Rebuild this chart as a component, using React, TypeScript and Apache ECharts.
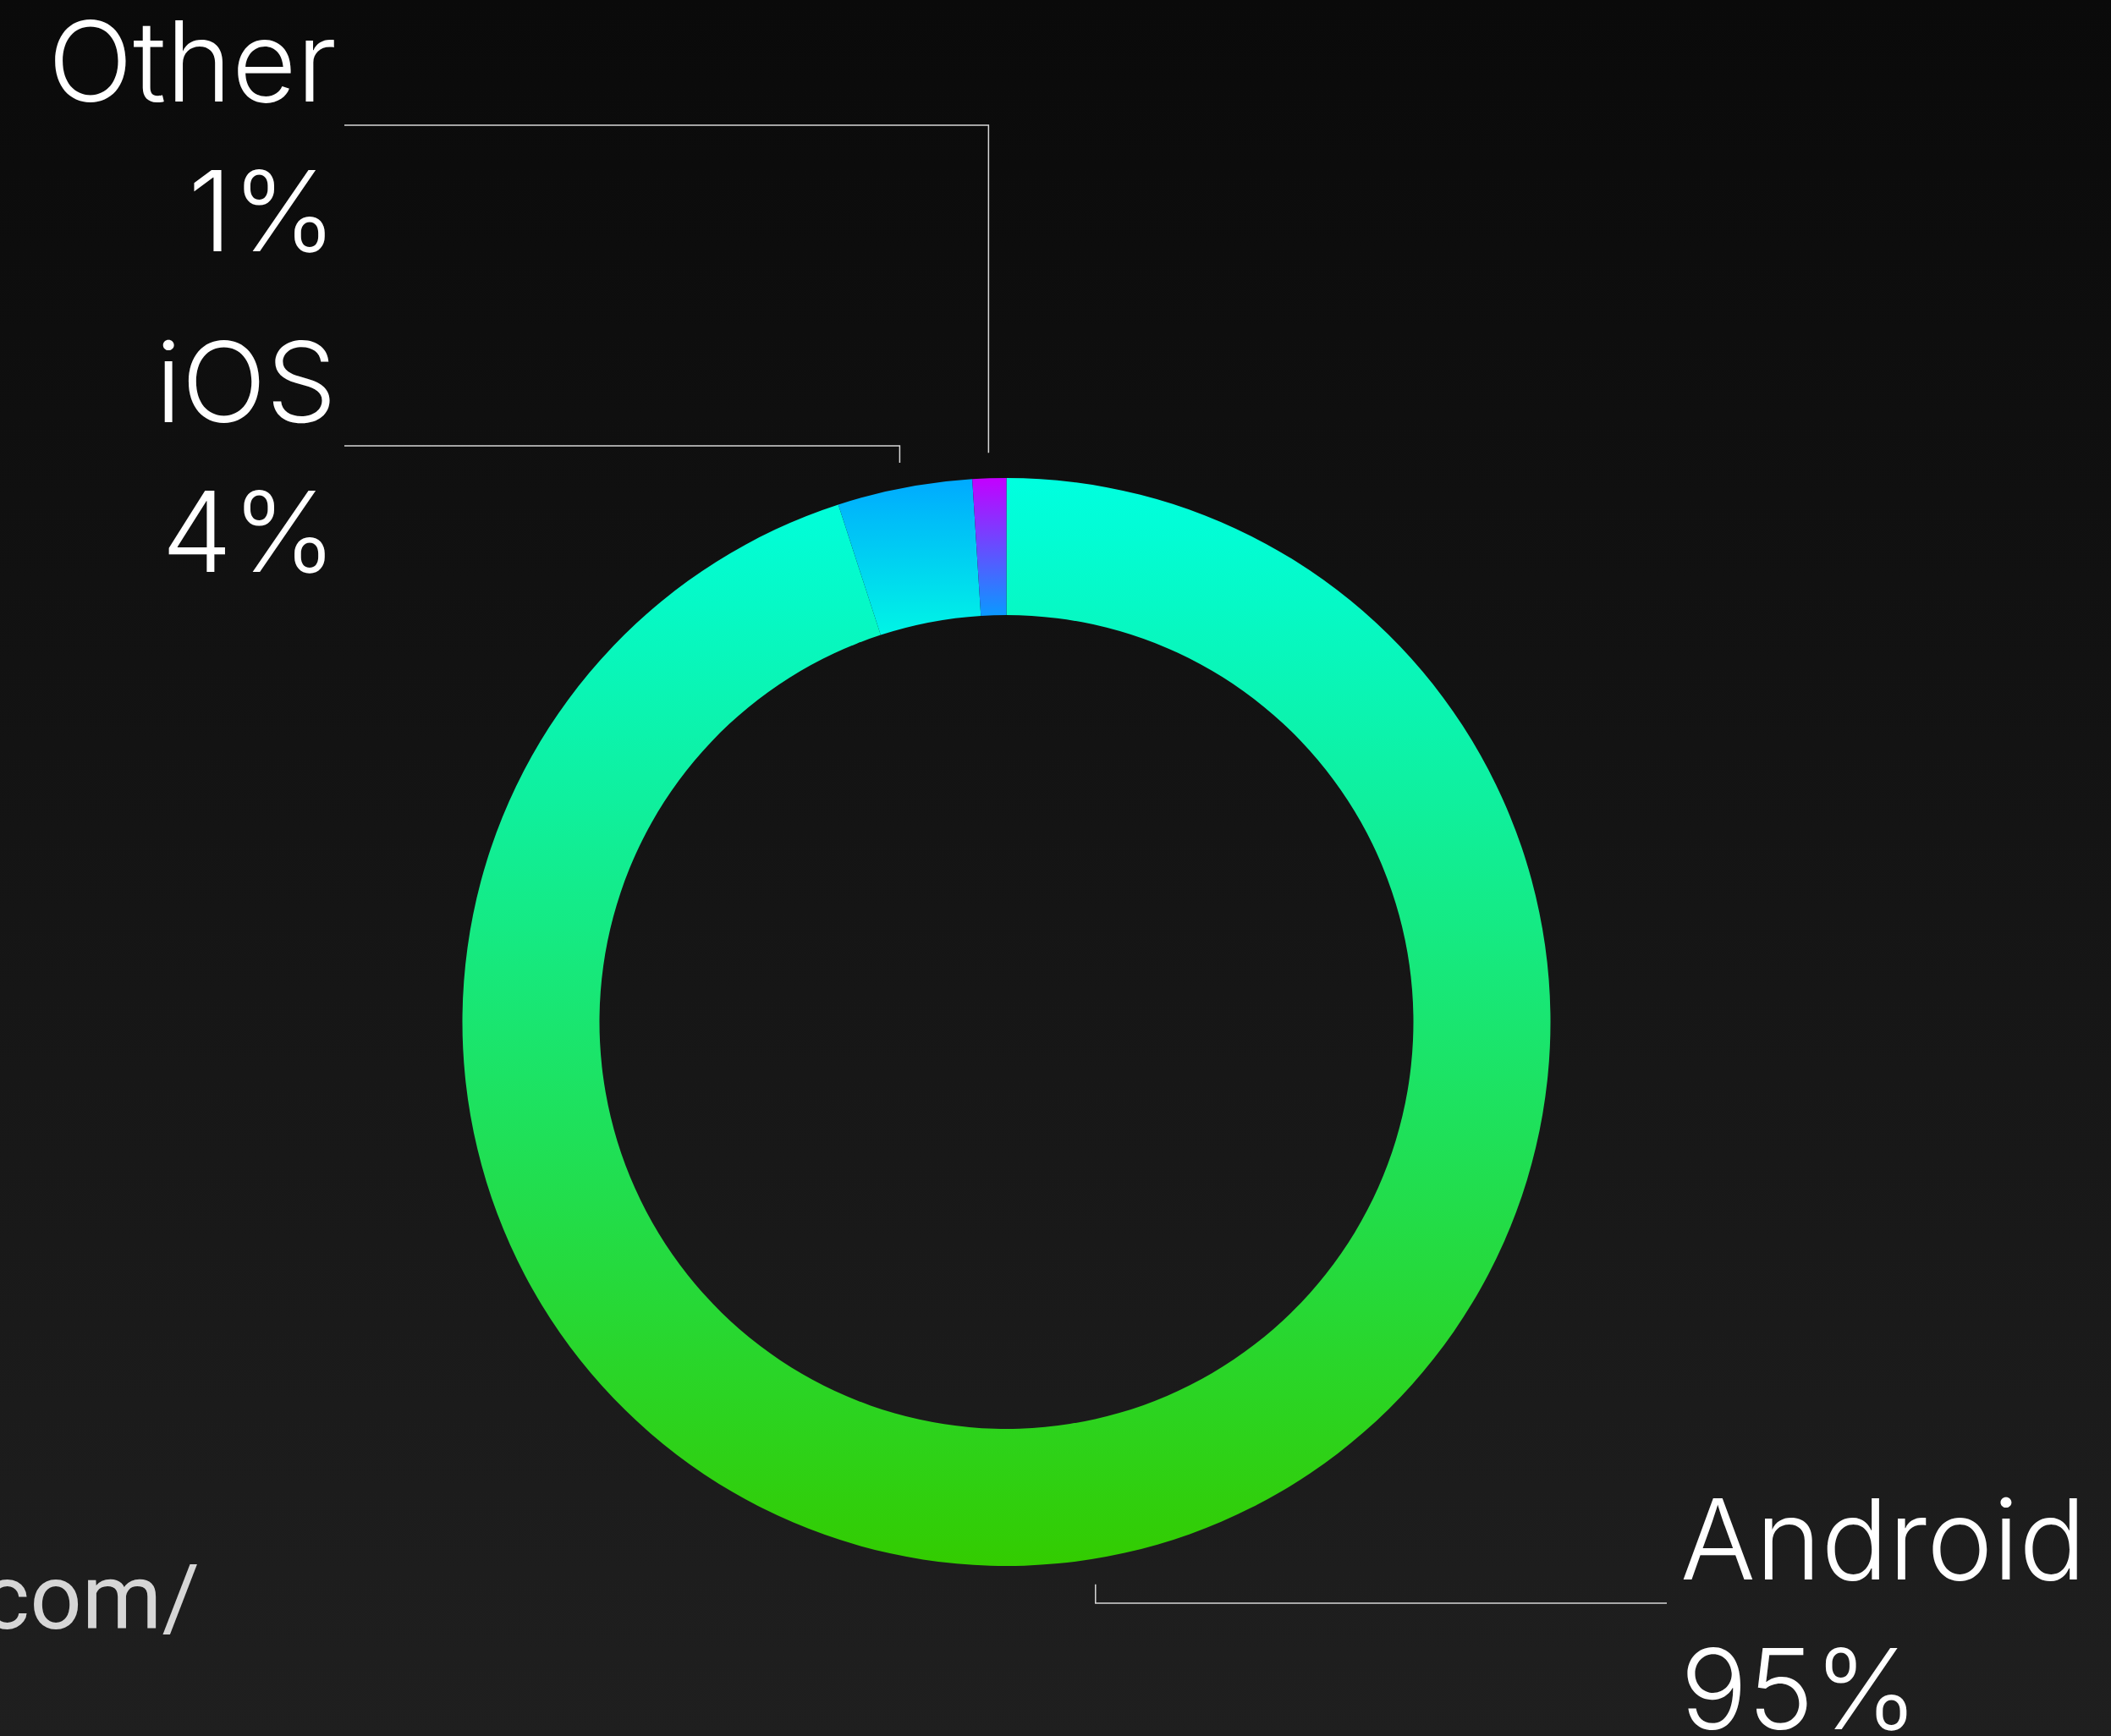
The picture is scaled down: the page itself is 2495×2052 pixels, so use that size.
import React, { useEffect, useRef } from "react";
import * as echarts from "echarts";

// ---- data ----
const CATEGORIES = ["Android", "iOS", "Other"];
const VALUES = [95, 4, 1];
const GRADIENT_TOP = ["#00ffe0", "#00aaff", "#c400ff"];
const GRADIENT_BOTTOM = ["#33cc00", "#00f5e5", "#0a99ff"];
const SOURCE_TEXT = "com/";

// ---- layout ----
const W = 2495;
const H = 2052;
const CX = 1189.5;
const CY = 1208;
const R_IN = 481;
const R_OUT = 643;
const LINE_GAP = 30;
const LABEL_LINE_Y = [1895, 527, 148];
const LABEL_DY = 12;
const FONT = "Inter, Roboto, 'Liberation Sans', Arial, sans-serif";
const SOURCE_FONT = "Roboto, 'Liberation Sans', Arial, sans-serif";

export default function App() {
  const ref = useRef<HTMLDivElement>(null);

  useEffect(() => {
    if (!ref.current) return;
    const chart = echarts.init(ref.current, undefined, { renderer: "svg" });
    const total = VALUES.reduce((a, b) => a + b, 0);
    const mids: number[] = [];
    let cum = 0;
    VALUES.forEach((v) => {
      mids.push(((cum + v / 2) / total) * Math.PI * 2);
      cum += v;
    });

    const data = CATEGORIES.map((name, i) => ({
      name,
      value: VALUES[i],
      itemStyle: {
        color: new echarts.graphic.LinearGradient(0, 0, 0, 1, [
          { offset: 0, color: GRADIENT_TOP[i] },
          { offset: 1, color: GRADIENT_BOTTOM[i] },
        ]),
      },
    }));

    chart.setOption({
      animation: false,
      backgroundColor: new echarts.graphic.LinearGradient(0, 0, 0, 1, [
        { offset: 0, color: "#0a0a0a" },
        { offset: 1, color: "#1f1f1f" },
      ]),
      graphic: [
        {
          type: "text",
          style: {
            text: SOURCE_TEXT,
            x: 236,
            y: 1942,
            align: "right",
            verticalAlign: "bottom",
            fill: "#d6d6d6",
            font: `400 108px ${SOURCE_FONT}`,
          },
        },
      ],
      series: [
        {
          type: "pie",
          center: [CX, CY],
          radius: [R_IN, R_OUT],
          startAngle: 90,
          clockwise: true,
          avoidLabelOverlap: false,
          itemStyle: { borderWidth: 0 },
          emphasis: { disabled: true },
          label: {
            show: true,
            position: "outside",
            color: "#ffffff",
            fontFamily: FONT,
            fontWeight: 300,
            fontSize: 132,
            lineHeight: 177,
            formatter: (p: any) => `${p.name}\n${Math.round(p.percent)}%`,
          },
          labelLine: {
            show: true,
            lineStyle: { color: "#d8d8d8", width: 1.5 },
          },
          labelLayout: (params: any) => {
            const i = params.dataIndex;
            const th = mids[i];
            const x0 = CX + (R_OUT + LINE_GAP) * Math.sin(th);
            const y0 = CY - (R_OUT + LINE_GAP) * Math.cos(th);
            const ly = LABEL_LINE_Y[i];
            const right = x0 > CX;
            const xe = right ? 1970 : 407;
            const lx = right ? 1986 : 398;
            return {
              x: lx,
              y: ly + LABEL_DY,
              align: right ? "left" : "right",
              verticalAlign: "middle",
              labelLinePoints: [
                [x0, y0],
                [x0, ly],
                [xe, ly],
              ],
            };
          },
          data,
        },
      ],
    });
    return () => chart.dispose();
  }, []);

  return (
    <div
      ref={ref}
      style={{ position: "absolute", left: 0, top: 0, width: W, height: H }}
    />
  );
}
